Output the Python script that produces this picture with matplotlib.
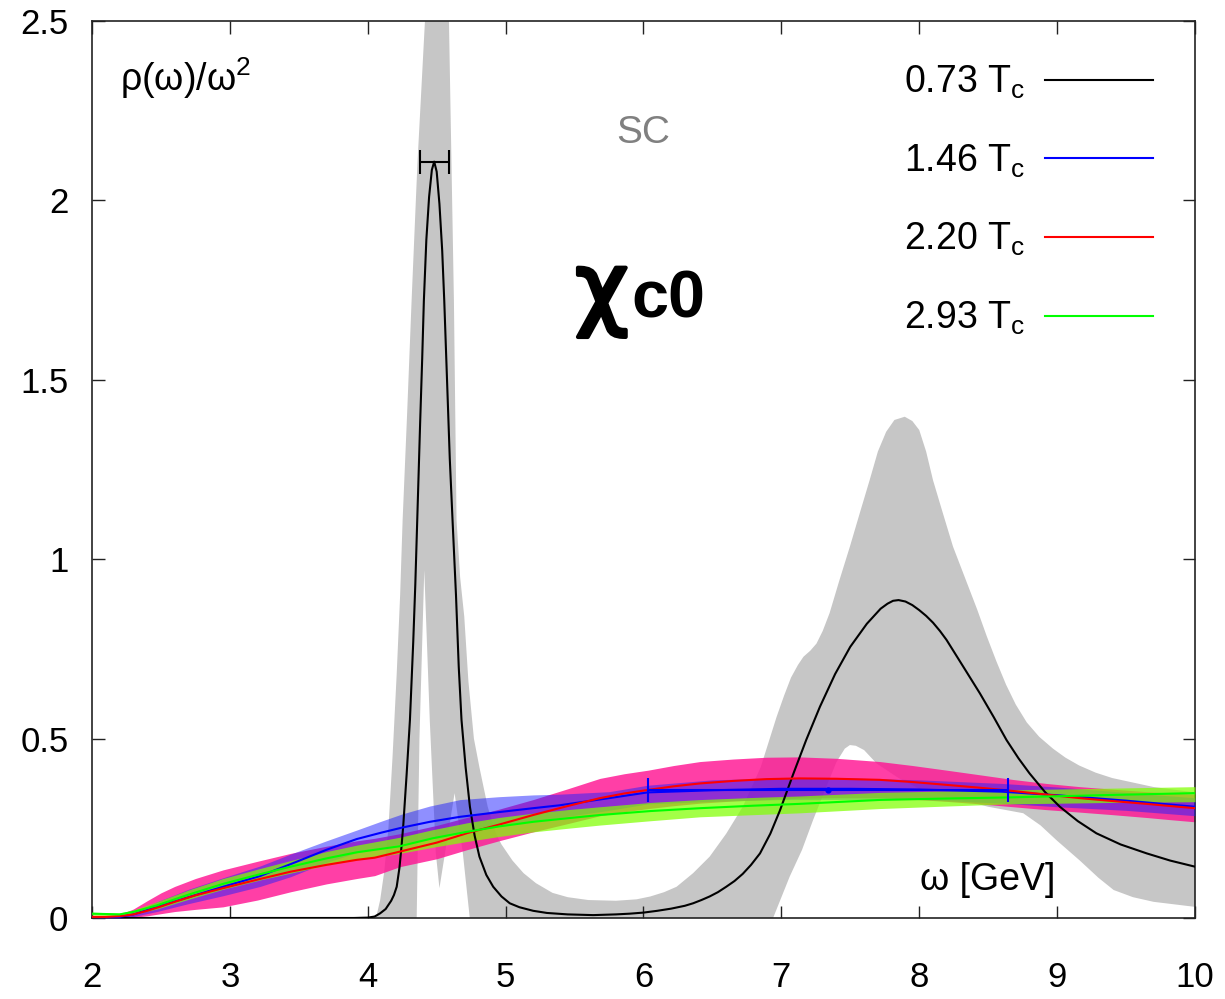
import numpy as np
import matplotlib
matplotlib.use("Agg")
import matplotlib.pyplot as plt
import matplotlib.patheffects as pe
from matplotlib.ticker import MultipleLocator
from matplotlib.offsetbox import TextArea, HPacker, AnchoredOffsetbox

plt.rcParams['font.family'] = ['Liberation Sans', 'DejaVu Sans']
plt.rcParams['mathtext.fontset'] = 'custom'
plt.rcParams['mathtext.rm'] = 'Liberation Sans'
plt.rcParams['mathtext.it'] = 'Liberation Sans:italic'

# 0.73 Tc, central curve
black_x = [2.0, 3.9, 4.0, 4.05, 4.09, 4.13, 4.17, 4.19, 4.21, 4.23, 4.245, 4.258, 4.282, 4.306,
           4.33, 4.345, 4.359, 4.38, 4.395, 4.407, 4.425, 4.445, 4.465, 4.482, 4.50, 4.52, 4.54,
           4.555, 4.575, 4.595, 4.615, 4.64, 4.66, 4.68, 4.71, 4.741, 4.775, 4.81, 4.86, 4.91,
           4.97, 5.03, 5.1, 5.2, 5.3, 5.45, 5.635, 5.8, 5.9, 6.0, 6.1, 6.2, 6.3, 6.36, 6.42, 6.48,
           6.54, 6.60, 6.66, 6.72, 6.78, 6.845, 6.92, 6.99, 7.085, 7.18, 7.28, 7.39, 7.50, 7.62,
           7.72, 7.77, 7.81, 7.85, 7.9, 7.95, 8.0, 8.05, 8.1, 8.15, 8.198, 8.32, 8.44, 8.54, 8.633,
           8.72, 8.80, 8.91, 9.02, 9.15, 9.285, 9.46, 9.65, 9.82, 10.0]
black_y = [0.0, 0.0, 0.001, 0.004, 0.013, 0.025, 0.048, 0.064, 0.087, 0.14, 0.2, 0.26, 0.40, 0.552,
           0.77, 0.93, 1.109, 1.38, 1.56, 1.72, 1.89, 2.01, 2.085, 2.108, 2.08, 1.99, 1.86,
           1.72, 1.50, 1.28, 1.109, 0.90, 0.70, 0.552, 0.42, 0.31, 0.23, 0.171, 0.12, 0.087,
           0.06, 0.041, 0.03, 0.02, 0.014, 0.01, 0.008, 0.01, 0.012, 0.015, 0.02, 0.026, 0.034,
           0.041, 0.05, 0.06, 0.072, 0.087, 0.103, 0.123, 0.148, 0.18, 0.235, 0.30, 0.40, 0.496,
           0.589, 0.68, 0.756, 0.82, 0.862, 0.876, 0.884, 0.886, 0.882, 0.872, 0.858, 0.842,
           0.823, 0.80, 0.775, 0.70, 0.626, 0.56, 0.496, 0.445, 0.403, 0.352, 0.31, 0.27, 0.236,
           0.205, 0.18, 0.16, 0.143]

# 0.73 Tc, error band (upper / lower edges)
gray_up_x = [2.0, 4.06, 4.09, 4.12, 4.15, 4.18, 4.21, 4.235, 4.253, 4.285, 4.318, 4.36, 4.415,
             4.45, 4.55, 4.589, 4.625, 4.644, 4.67, 4.70, 4.73, 4.77, 4.81, 4.87, 4.93, 4.97,
             5.05, 5.13, 5.22, 5.34, 5.45, 5.6, 5.8, 5.95, 6.05, 6.15, 6.24, 6.36, 6.48, 6.6, 6.72,
             6.85, 6.965, 7.02, 7.07, 7.12, 7.16, 7.21, 7.255, 7.30, 7.35, 7.42, 7.497, 7.57, 7.64,
             7.70, 7.76, 7.82, 7.895, 7.95, 8.0, 8.05, 8.10, 8.17, 8.245, 8.33, 8.42, 8.49, 8.56,
             8.63, 8.70, 8.78, 8.87, 8.97, 9.06, 9.16, 9.28, 9.4, 9.7, 10.0]
gray_up_y = [0.0, 0.0, 0.05, 0.13, 0.25, 0.45, 0.68, 0.9, 1.109, 1.40, 1.72, 2.1, 2.5,
             3.0, 3.0, 2.5, 1.72, 1.109, 0.95, 0.84, 0.66, 0.50, 0.42, 0.31, 0.235, 0.205,
             0.16, 0.125, 0.097, 0.07, 0.058, 0.05, 0.048, 0.052, 0.06, 0.072, 0.087, 0.125, 0.171,
             0.235, 0.31, 0.42, 0.56, 0.62, 0.67, 0.705, 0.728, 0.745, 0.765, 0.80, 0.85, 0.94,
             1.035, 1.13, 1.22, 1.30, 1.355, 1.388, 1.397, 1.385, 1.36, 1.30, 1.22, 1.13, 1.035,
             0.95, 0.86, 0.785, 0.715, 0.65, 0.595, 0.545, 0.505, 0.472, 0.447, 0.425, 0.405,
             0.39, 0.365, 0.35]
gray_lo_x = [2.0, 4.355, 4.375, 4.41, 4.45, 4.494, 4.52, 4.56, 4.63, 4.69, 4.74, 6.94, 7.06, 7.15,
             7.23, 7.32, 7.40, 7.46, 7.497, 7.54, 7.60, 7.69, 7.85, 8.0, 8.3, 8.5, 8.754, 8.88,
             8.995, 9.165, 9.3, 9.41, 9.55, 9.7, 10.0]
gray_lo_y = [0.0, 0.0, 0.5, 0.97, 0.55, 0.18, 0.083, 0.18, 0.348, 0.18, 0.0, 0.0, 0.115, 0.19,
             0.273, 0.36, 0.435, 0.472, 0.482, 0.48, 0.468, 0.431, 0.39, 0.36, 0.33, 0.31, 0.292,
             0.258, 0.217, 0.16, 0.112, 0.078, 0.058, 0.045, 0.031]

# 1.46 Tc
blue_x = [2.0, 2.1, 2.2, 2.3, 2.47, 2.7, 2.95, 3.22, 3.44, 3.7, 3.92, 4.1, 4.25, 4.45, 4.67,
          4.95, 5.2, 5.39, 5.75, 6.03, 6.5, 7.0, 7.5, 8.0, 8.6, 9.0, 9.5, 10.0]
blue_y = [0.0, 0.001, 0.003, 0.01, 0.031, 0.058, 0.087, 0.117, 0.15, 0.19, 0.22, 0.238, 0.252,
          0.268, 0.282, 0.295, 0.306, 0.314, 0.334, 0.35, 0.356, 0.36, 0.36, 0.358, 0.352,
          0.342, 0.327, 0.31]
blue_up = [0.0, 0.002, 0.006, 0.016, 0.045, 0.08, 0.112, 0.145, 0.178, 0.215, 0.245, 0.27, 0.29,
           0.312, 0.33, 0.338, 0.343, 0.345, 0.352, 0.37, 0.385, 0.39, 0.39, 0.385, 0.375,
           0.365, 0.35, 0.335]
blue_lo = [0.0, 0.0, 0.0, 0.004, 0.018, 0.04, 0.062, 0.088, 0.115, 0.155, 0.182, 0.196, 0.207,
           0.222, 0.238, 0.255, 0.27, 0.28, 0.30, 0.318, 0.325, 0.33, 0.33, 0.33, 0.32, 0.31,
           0.30, 0.285]

# 2.20 Tc
red_x = [2.0, 2.1, 2.2, 2.3, 2.4, 2.5, 2.6, 2.75, 2.95, 3.2, 3.44, 3.7, 3.92, 4.05, 4.233, 4.5,
         4.717, 4.95, 5.2, 5.45, 5.684, 5.86, 6.034, 6.22, 6.41, 6.65, 6.89, 7.13, 7.4, 7.714,
         7.95, 8.198, 8.44, 8.68, 8.92, 9.165, 9.4, 9.65, 9.82, 10.0]
red_y = [0.003, 0.003, 0.005, 0.01, 0.02, 0.032, 0.045, 0.063, 0.083, 0.107, 0.129, 0.148, 0.162,
         0.168, 0.185, 0.21, 0.236, 0.26, 0.287, 0.312, 0.334, 0.347, 0.357, 0.367, 0.375,
         0.382, 0.387, 0.389, 0.388, 0.385, 0.379, 0.371, 0.363, 0.354, 0.344, 0.334, 0.326,
         0.318, 0.312, 0.306]
red_up = [0.005, 0.006, 0.01, 0.025, 0.048, 0.07, 0.088, 0.11, 0.134, 0.158, 0.18, 0.2, 0.215,
          0.222, 0.235, 0.258, 0.28, 0.303, 0.33, 0.36, 0.389, 0.402, 0.412, 0.425, 0.436, 0.443,
          0.448, 0.449, 0.445, 0.436, 0.425, 0.412, 0.399, 0.386, 0.375, 0.366, 0.359, 0.352,
          0.348, 0.345]
red_lo = [0.0, 0.0, 0.0, 0.002, 0.006, 0.012, 0.018, 0.024, 0.031, 0.05, 0.073, 0.095, 0.11,
          0.118, 0.143, 0.165, 0.19, 0.215, 0.24, 0.263, 0.285, 0.296, 0.305, 0.313, 0.32, 0.326,
          0.33, 0.334, 0.335, 0.335, 0.331, 0.325, 0.318, 0.31, 0.302, 0.295, 0.288, 0.28,
          0.274, 0.268]

# 2.93 Tc
green_x = [2.0, 2.1, 2.2, 2.3, 2.47, 2.7, 2.95, 3.22, 3.44, 3.70, 3.92, 4.233, 4.47, 4.717,
           4.95, 5.2, 5.45, 5.684, 6.05, 6.41, 6.8, 7.13, 7.714, 8.2, 8.645, 9.41, 10.0]
green_y = [0.012, 0.011, 0.01, 0.017, 0.035, 0.065, 0.095, 0.122, 0.143, 0.166, 0.183, 0.20,
           0.222, 0.24, 0.255, 0.268, 0.278, 0.287, 0.298, 0.306, 0.313, 0.318, 0.329, 0.333,
           0.336, 0.343, 0.348]
green_up = [0.016, 0.015, 0.014, 0.022, 0.045, 0.078, 0.11, 0.138, 0.16, 0.185, 0.203, 0.225,
            0.246, 0.265, 0.28, 0.292, 0.302, 0.31, 0.322, 0.33, 0.336, 0.34, 0.35, 0.354,
            0.357, 0.362, 0.366]
green_lo = [0.008, 0.007, 0.006, 0.011, 0.025, 0.052, 0.08, 0.106, 0.125, 0.147, 0.162, 0.18,
            0.197, 0.213, 0.227, 0.24, 0.25, 0.259, 0.271, 0.282, 0.288, 0.293, 0.305, 0.312,
            0.318, 0.322, 0.324]

# peak positions with horizontal errors (x, y, minus, plus)
peak_black = (4.483, 2.108, 0.105, 0.106)
peak_blue = (7.34, 0.357, 1.31, 1.305)

labels = ['0.73 T$_\\mathrm{c}$', '1.46 T$_\\mathrm{c}$', '2.20 T$_\\mathrm{c}$', '2.93 T$_\\mathrm{c}$']

fig = plt.figure(figsize=(12.25, 9.99), dpi=100)
ax = fig.add_axes([0.0751, 0.0811, 0.9004, 0.8979])

# gray band as a polygon (upper edge forward, lower edge back)
poly_x = np.concatenate([gray_up_x, gray_lo_x[::-1]])
poly_y = np.concatenate([gray_up_y, gray_lo_y[::-1]])
ax.fill(poly_x, poly_y, color='#c6c6c6', lw=0, zorder=1)

ax.fill_between(red_x, red_lo, red_up, color='#ff1493', alpha=0.82, lw=0, zorder=2)
ax.fill_between(blue_x, blue_lo, blue_up, color='#2020ff', alpha=0.5, lw=0, zorder=3)
ax.fill_between(green_x, green_lo, green_up, color='#80ff00', alpha=0.72, lw=0, zorder=4)

l0, = ax.plot(black_x, black_y, color='black', lw=1.5, zorder=5)
l1, = ax.plot(blue_x, blue_y, color='#0000ff', lw=1.5, zorder=6)
l2, = ax.plot(red_x, red_y, color='#ff0000', lw=1.5, zorder=6)
l3, = ax.plot(green_x, green_y, color='#00ff00', lw=1.5, zorder=7)

ax.errorbar(peak_black[0], peak_black[1], xerr=[[peak_black[2]], [peak_black[3]]],
            fmt='none', ecolor='black', elinewidth=1.5, capsize=8.5, capthick=1.5, zorder=8)
ax.errorbar(peak_blue[0], peak_blue[1], xerr=[[peak_blue[2]], [peak_blue[3]]],
            fmt='o', ms=3.5, color='#0000ff', ecolor='#0000ff', elinewidth=1.5, capsize=8.5,
            capthick=1.5, zorder=8)

ax.set_xlim(2, 10)
ax.set_ylim(0, 2.5)
ax.xaxis.set_major_locator(MultipleLocator(1))
ax.set_yticks([0, 0.5, 1, 1.5, 2, 2.5])
ax.set_yticklabels(['0', '0.5', '1', '1.5', '2', '2.5'])
ax.tick_params(direction='in', length=9, width=1, top=True, right=True, labelsize=25,
               color='#222222')
ax.tick_params(axis='x', pad=31)
ax.tick_params(axis='y', pad=17)
for s in ax.spines.values():
    s.set_linewidth(1.2)
    s.set_color('#222222')

ax.text(0.0254, 0.936, 'ρ(ω)/ω$^2$', transform=ax.transAxes, fontsize=27, ha='left', va='center')
ax.text(0.812, 0.042, 'ω [GeV]', transform=ax.transAxes, fontsize=27, ha='center', va='center')
ax.text(0.4995, 0.875, 'SC', transform=ax.transAxes, fontsize=28, color='#808080',
        ha='center', va='center')

# channel name: large chi followed by c0 on the same baseline
chi = TextArea('χ', textprops=dict(fontsize=66, color='black', family='DejaVu Sans',
                                   path_effects=[pe.withStroke(linewidth=3, foreground='black')]))
c0 = TextArea('c0', textprops=dict(fontsize=48, fontweight='bold', color='black'))
name = HPacker(children=[chi, c0], align='baseline', pad=0, sep=2)
box = AnchoredOffsetbox(loc='center', child=name, pad=0, borderpad=0, frameon=False,
                        bbox_to_anchor=(0.497, 0.698), bbox_transform=ax.transAxes)
ax.add_artist(box)

ax.legend([l0, l1, l2, l3], labels, loc='upper right', bbox_to_anchor=(0.962, 0.952),
          frameon=False, markerfirst=False, fontsize=27, handlelength=2.88, handletextpad=0.53,
          labelspacing=1.1, borderpad=0, borderaxespad=0)

fig.savefig('out.png', dpi=100)
